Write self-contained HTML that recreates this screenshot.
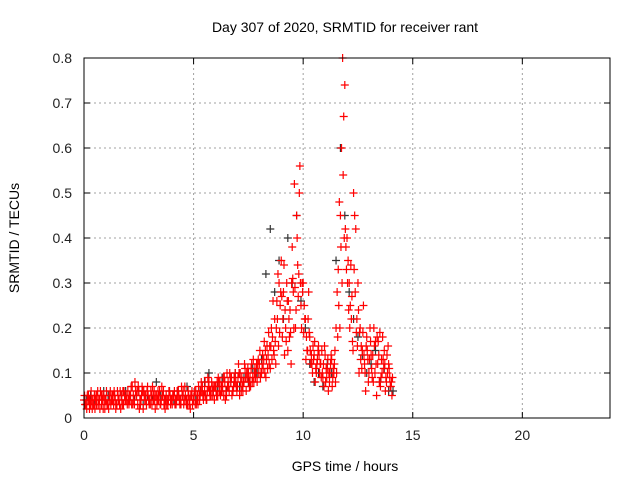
<!DOCTYPE html>
<html><head><meta charset="utf-8"><style>
body{margin:0;background:#fff;}
svg{display:block;font-family:"Liberation Sans",sans-serif;}
</style></head><body>
<svg id="chart" width="640" height="480">
<text x="345" y="32" font-size="14" text-anchor="middle">Day 307 of 2020, SRMTID for receiver rant</text>
<text x="345" y="471" font-size="14" text-anchor="middle">GPS time / hours</text>
<text transform="translate(19,238) rotate(-90)" font-size="14" text-anchor="middle">SRMTID / TECUs</text>
<g id="grid"></g>
<g id="ticks"></g>
<g id="black"></g>
<g id="red"></g>
<rect x="84" y="58" width="526" height="360" fill="none" stroke="#000" stroke-width="1"/>
</svg>
<script>
const xTicks=[0,5,10,15,20];
const yTicks=[0,0.1,0.2,0.3,0.4,0.5,0.6,0.7,0.8];
const yTickLabels=["0","0.1","0.2","0.3","0.4","0.5","0.6","0.7","0.8"];
const redA=[0.04,0.03,0.05,0.03,0.04,0.02,0.05,0.04,0.03,0.05,0.04,0.03,0.06,0.04,0.05,0.03,0.04,0.05,0.03,0.04,
0.06,0.04,0.07,0.03,0.05,0.06,0.04,0.02,0.05,0.07,0.04,0.03,0.06,0.05,0.04,0.03,0.05,0.02,0.04,0.06,
0.04,0.05,0.03,0.06,0.04,0.05,0.07,0.04,0.03,0.05,0.04,0.06,0.03,0.05,0.07,0.06,0.04,0.08,0.05,0.06,
0.07,0.05,0.08,0.06,0.09,0.05,0.07,0.08,0.06,0.1,0.07,0.05,0.09,0.08,0.06,0.1,0.07,0.09,0.11,0.08,
0.12,0.1,0.13,0.09,0.14,0.11,0.18,0.22,0.26,0.3,0.35,0.28,0.2,0.15,0.24,0.38,0.52,0.45,0.32,0.25,
0.3,0.22,0.15,0.18,0.12,0.14,0.1,0.16,0.12,0.09,0.14,0.11,0.08,0.13,0.1,0.2,0.33,0.45,0.8,0.74,
0.4,0.3,0.22,0.5,0.42,0.3,0.2,0.15,0.12,0.18,0.1,0.14,0.08,0.17,0.12,0.19,0.1,0.15,0.08,0.12,0.07];
const redB=[0.03,0.05,0.02,0.04,0.03,0.05,0.03,0.06,0.04,0.02,0.03,0.05,0.04,0.03,0.02,0.05,0.06,0.03,0.05,0.04,
0.03,0.07,0.05,0.06,0.03,0.04,0.07,0.05,0.03,0.04,0.06,0.05,0.02,0.04,0.06,0.07,0.03,0.05,0.04,0.03,
0.05,0.03,0.06,0.04,0.07,0.03,0.04,0.06,0.02,0.03,0.06,0.04,0.05,0.08,0.04,0.05,0.09,0.05,0.07,0.04,
0.05,0.08,0.06,0.09,0.04,0.07,0.1,0.05,0.09,0.07,0.12,0.08,0.06,0.11,0.09,0.07,0.12,0.08,0.1,0.13,
0.09,0.14,0.1,0.16,0.12,0.2,0.15,0.12,0.32,0.25,0.18,0.14,0.3,0.22,0.12,0.28,0.2,0.34,0.56,0.3,
0.25,0.18,0.28,0.12,0.16,0.08,0.13,0.1,0.15,0.07,0.11,0.06,0.12,0.09,0.15,0.28,0.48,0.6,0.67,0.38,
0.35,0.25,0.17,0.45,0.22,0.1,0.16,0.25,0.06,0.13,0.2,0.09,0.16,0.05,0.14,0.09,0.13,0.06,0.1,0.09,0.05];
const redC=[0.05,0.02,0.04,0.06,0.03,0.04,0.06,0.02,0.05,0.04,0.06,0.02,0.03,0.05,0.04,0.06,0.03,0.04,0.06,0.05,
0.04,0.05,0.03,0.08,0.06,0.02,0.05,0.06,0.04,0.05,0.03,0.07,0.04,0.03,0.05,0.04,0.06,0.04,0.03,0.05,
0.03,0.06,0.04,0.05,0.03,0.06,0.05,0.03,0.04,0.06,0.05,0.03,0.07,0.06,0.05,0.08,0.06,0.06,0.08,0.07,
0.06,0.09,0.05,0.07,0.08,0.1,0.06,0.09,0.07,0.08,0.09,0.1,0.07,0.12,0.1,0.08,0.11,0.13,0.09,0.12,
0.15,0.12,0.17,0.13,0.19,0.16,0.26,0.17,0.22,0.19,0.27,0.34,0.17,0.26,0.19,0.31,0.29,0.4,0.5,0.2,
0.19,0.13,0.22,0.15,0.1,0.17,0.12,0.14,0.09,0.12,0.08,0.13,0.1,0.07,0.12,0.1,0.25,0.38,0.54,0.42,
0.3,0.2,0.27,0.33,0.19,0.24,0.13,0.19,0.1,0.15,0.13,0.11,0.2,0.12,0.17,0.07,0.18,0.12,0.14,0.11,0.08];
const redD=[0.03,0.04,0.04,0.02,0.05,0.03,0.04,0.05,0.02,0.04,0.03,0.04,0.05,0.06,0.03,0.04,0.02,0.06,0.04,0.03,
0.05,0.03,0.04,0.05,0.07,0.03,0.06,0.04,0.06,0.03,0.05,0.04,0.05,0.06,0.03,0.05,0.04,0.03,0.06,0.04,
0.05,0.04,0.05,0.03,0.05,0.04,0.03,0.05,0.05,0.04,0.03,0.05,0.04,0.06,0.05,0.04,0.07,0.06,0.05,0.07,
0.08,0.06,0.07,0.05,0.06,0.08,0.09,0.06,0.08,0.06,0.1,0.06,0.08,0.09,0.11,0.09,0.08,0.1,0.12,0.1,
0.1,0.11,0.15,0.11,0.16,0.13,0.14,0.2,0.16,0.28,0.22,0.24,0.26,0.18,0.3,0.2,0.24,0.27,0.3,0.28,
0.22,0.15,0.19,0.14,0.13,0.11,0.15,0.12,0.1,0.16,0.09,0.1,0.14,0.11,0.08,0.18,0.2,0.3,0.4,0.33,
0.24,0.34,0.15,0.28,0.16,0.19,0.11,0.14,0.16,0.08,0.17,0.14,0.1,0.18,0.08,0.13,0.11,0.09,0.16,0.07,0.09];
const blackV=[0.04,0.05,0.03,0.04,0.06,0.05,0.04,0.03,0.05,0.06,
0.05,0.04,0.06,0.03,0.05,0.04,0.08,0.05,0.04,0.06,
0.04,0.06,0.05,0.07,0.05,0.04,0.06,0.08,0.1,0.06,
0.07,0.09,0.06,0.08,0.1,0.07,0.09,0.08,0.11,0.1,
0.13,0.32,0.42,0.28,0.35,0.22,0.4,0.3,0.45,0.26,
0.2,0.12,0.08,0.1,0.07,0.12,0.1,0.35,0.6,0.45,
0.28,0.22,0.18,0.14,0.1,0.12,0.15,0.08,0.11,0.06,0.06];
const redStep=0.1, blackStep=0.2;
const X=t=>84+t*(526/24), Y=v=>418-v*450;
const NS="http://www.w3.org/2000/svg";
function mk(tag,attrs,parent){const e=document.createElementNS(NS,tag);for(const k in attrs)e.setAttribute(k,attrs[k]);parent.appendChild(e);return e;}
const grid=document.getElementById('grid'),ticks=document.getElementById('ticks');
xTicks.forEach(t=>{
 if(t>0){const g=mk('line',{x1:X(t),x2:X(t),y1:58,y2:418,stroke:'#a0a0a0','stroke-dasharray':'2,3'},grid);
 
 }
 mk('line',{x1:X(t),x2:X(t),y1:418,y2:412,stroke:'#000'},ticks);
 mk('line',{x1:X(t),x2:X(t),y1:58,y2:64,stroke:'#000'},ticks);
 const l=mk('text',{x:X(t),y:440,'font-size':14,'text-anchor':'middle',fill:'#222'},ticks);l.textContent=t;
 
 
});
yTicks.forEach((v,i)=>{
 if(v>0){const g=mk('line',{x1:84,x2:610,y1:Y(v),y2:Y(v),stroke:'#a0a0a0','stroke-dasharray':'2,3'},grid);
 
 }
 mk('line',{x1:84,x2:90,y1:Y(v),y2:Y(v),stroke:'#000'},ticks);
 mk('line',{x1:610,x2:604,y1:Y(v),y2:Y(v),stroke:'#000'},ticks);
 const l=mk('text',{x:72,y:Y(v)+5,'font-size':14,'text-anchor':'end',fill:'#222'},ticks);l.textContent=yTickLabels[i];
 
 
});
function plus(g,t,v,c){const x=X(t),y=Y(v);
 const p=mk('path',{d:`M${x-4},${y}h8M${x},${y-4}v8`,stroke:c,'stroke-width':1.2,fill:'none'},g);
 
 }
const bg=document.getElementById('black'),rg=document.getElementById('red');
blackV.forEach((v,i)=>plus(bg,i*blackStep+0.1,v,'#333'));
redA.forEach((v,i)=>plus(rg,i*redStep,v,'#ff0000'));
redB.forEach((v,i)=>plus(rg,i*redStep+0.05,v,'#ff0000'));
redC.forEach((v,i)=>plus(rg,i*redStep+0.025,v,'#ff0000'));
redD.forEach((v,i)=>plus(rg,i*redStep+0.075,v,'#ff0000'));
</script>
</body></html>
